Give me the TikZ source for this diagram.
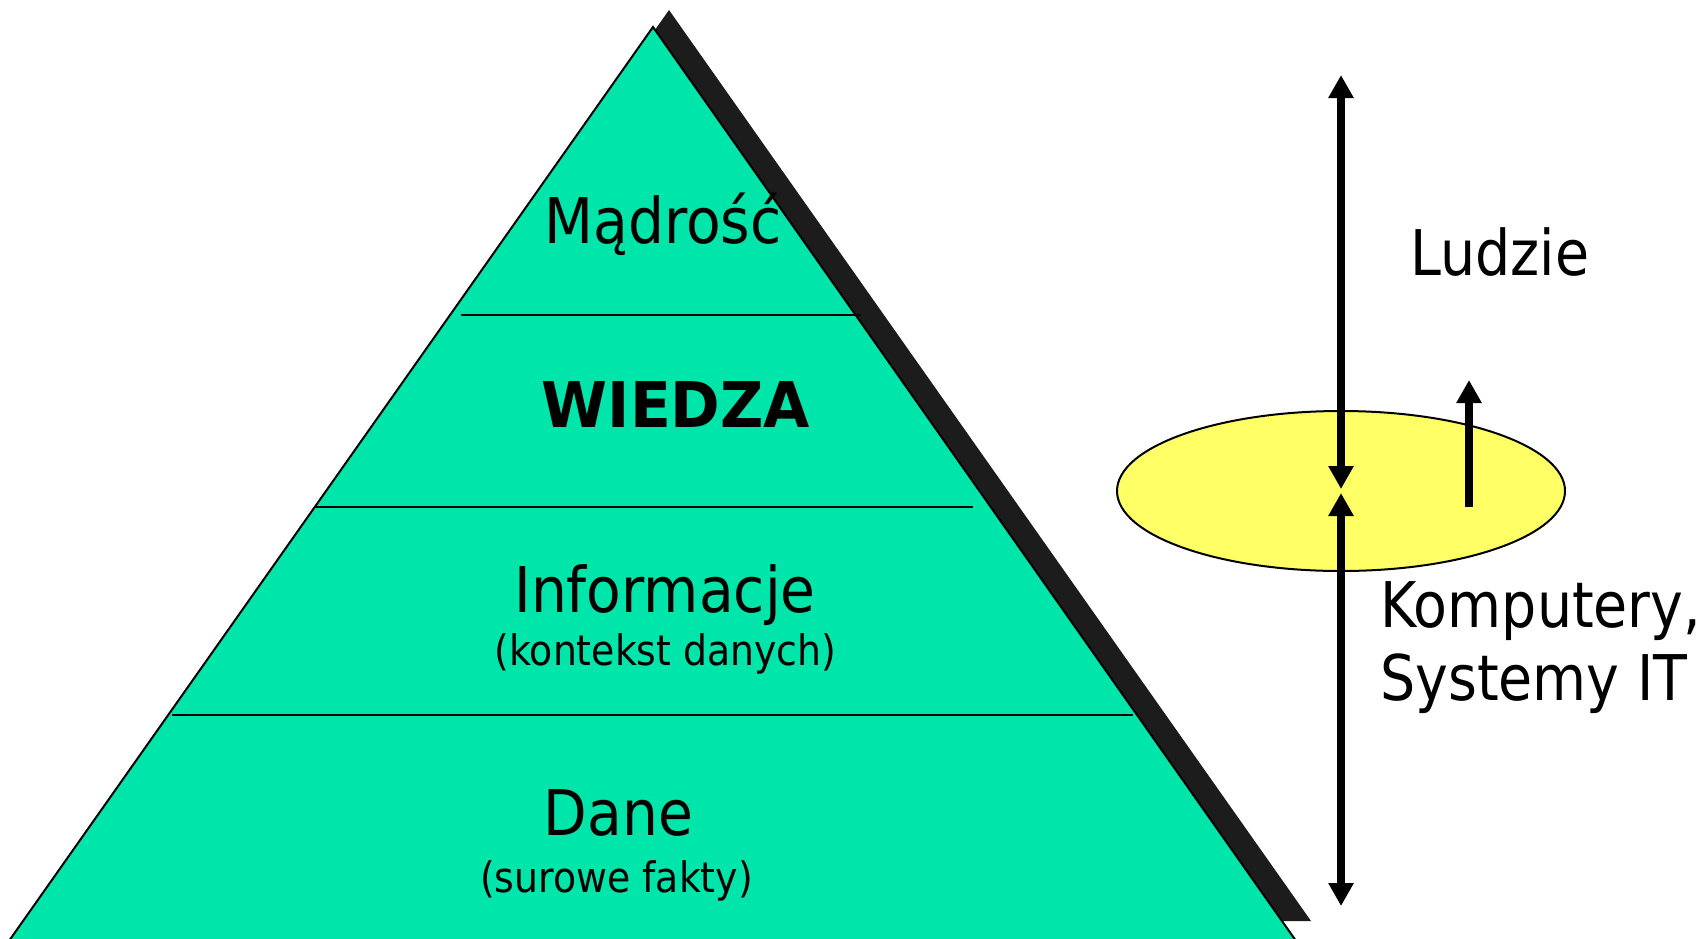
\documentclass[tikz,border=0pt]{standalone}
\usepackage{fontspec}
\setmainfont{DejaVu Sans}[FakeStretch=0.90]
\newfontfamily\heavyfont{DejaVu Sans}[FakeStretch=0.95]
\newfontfamily\sidefont{DejaVu Sans}[FakeStretch=0.88]
\usetikzlibrary{arrows.meta,shapes.geometric}

\definecolor{pyrgreen}{RGB}{0,229,170}
\definecolor{pyrshadow}{RGB}{28,28,28}
\definecolor{discyellow}{RGB}{255,255,102}

\tikzset{
  big/.style={inner sep=0pt, anchor=base, font=\fontsize{63}{73}\selectfont},
  small/.style={inner sep=0pt, anchor=base, font=\fontsize{42}{50}\selectfont},
  sidetext/.style={inner sep=0pt, anchor=base west, font=\fontsize{63}{73}\sidefont},
  layerline/.style={line width=2pt},
  flow/.style={line width=7.5pt, {Triangle[length=23pt,width=24pt]}-{Triangle[length=23pt,width=24pt]}},
  rise/.style={line width=7.5pt, -{Triangle[length=23pt,width=24pt]}},
}

\begin{document}
\begin{tikzpicture}[x=1pt,y=-1pt]
  \useasboundingbox (0,0) rectangle (1704,938);
  \clip (0,0) rectangle (1704,938);

  % shadow of the pyramid
  \fill[pyrshadow] (669,10) -- (1311,921) -- (27,921) -- cycle;
  % pyramid body (base runs below the page edge)
  \draw[fill=pyrgreen, line width=2pt, line join=miter] (653,27) -- (1302.4,950) -- (2.6,950) -- cycle;

  % layer separators
  \coordinate (l1a) at (461,315);  \coordinate (l1b) at (861,315);
  \coordinate (l2a) at (315,507);  \coordinate (l2b) at (973,507);
  \coordinate (l3a) at (172,715);  \coordinate (l3b) at (1133,715);
  \draw[layerline] (l1a) -- (l1b);
  \draw[layerline] (l2a) -- (l2b);
  \draw[layerline] (l3a) -- (l3b);

  % layer labels
  \node[big] (madrosc) at (663,243) {Mądrość};
  \node[big, font=\fontsize{63}{73}\heavyfont\bfseries] (wiedza) at (676,427) {WIEDZA};
  \node[big] (informacje) at (665,612) {Informacje};
  \node[small] (kontekst) at (665.5,665) {(kontekst danych)};
  \node[big] (dane) at (618.5,835) {Dane};
  \node[small] (surowe) at (616.5,892) {(surowe fakty)};

  % boundary between people and computers
  \node[ellipse, draw, line width=2pt, fill=discyellow, minimum width=448pt, minimum height=160pt, inner sep=0pt] (disc) at (1341,491) {};

  \coordinate (top) at (1341,75);
  \coordinate (midup) at (1341,489);
  \coordinate (middown) at (1341,493);
  \coordinate (bottom) at (1341,906);
  \coordinate (risefoot) at (1469,507);
  \coordinate (risetip) at (1469,380);

  \draw[flow] (top) -- (midup);
  \draw[flow] (middown) -- (bottom);
  \draw[rise] (risefoot) -- (risetip);

  % side labels
  \node[sidetext] (ludzie) at (1410,275) {Ludzie};
  \node[sidetext] (komputery) at (1380,627) {Komputery,};
  \node[sidetext] (systemy) at (1380,700) {Systemy IT};
\end{tikzpicture}
\end{document}
